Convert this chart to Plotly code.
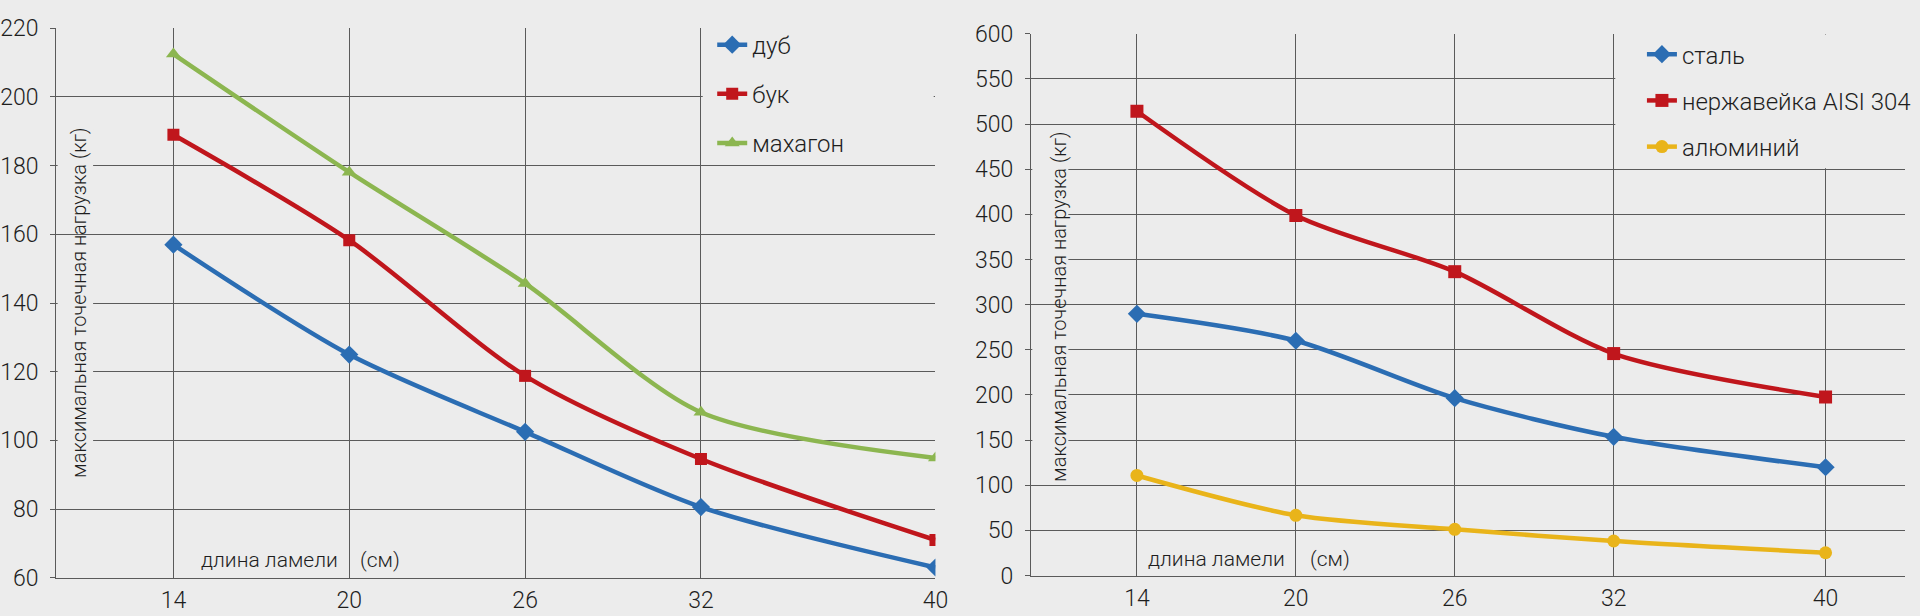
import plotly.graph_objects as go

# ---- data ----
lengths = [14, 20, 26, 32, 40]

wood_names = ["дуб", "бук", "махагон"]
oak = [157, 125, 102.5, 80.6, 63]
beech = [189, 158.3, 118.8, 94.6, 71]
mahogany = [212.5, 178.1, 145.7, 108.2, 94.9]

metal_names = ["сталь", "нержавейка AISI 304", "алюминий"]
steel = [289.8, 260, 196.4, 153.6, 119.9]
stainless = [514.2, 398.8, 336.5, 245.8, 197.8]
aluminium = [110.8, 66.7, 51.2, 38.2, 25.2]

left_yticks = [60, 80, 100, 120, 140, 160, 180, 200, 220]
right_yticks = [0, 50, 100, 150, 200, 250, 300, 350, 400, 450, 500, 550, 600]

y_title = "максимальная точечная нагрузка (кг)"
x_title = "длина ламели"
x_unit = "(см)"

# ---- style ----
W, H = 1920, 616
BG = "#ececec"
GRID = "#5a5a5a"
TXT = "#1e1e1e"
FONT = "Roboto"
BLUE = "#2b6db3"
RED = "#c0161c"
GREEN = "#8cb650"
YELLOW = "#e9b41a"

def px_x(p):
    return p / W

def px_y(p):
    return 1 - p / H

fig = go.Figure()

wood_series = [oak, beech, mahogany]
wood_colors = [BLUE, RED, GREEN]
wood_symbols = ["diamond", "square", "triangle-up"]
wood_sizes = [14, 12, 13]
for i, (name, vals) in enumerate(zip(wood_names, wood_series)):
    fig.add_trace(go.Scatter(
        x=lengths, y=vals, name=name, mode="lines+markers",
        line=dict(color=wood_colors[i], width=4.5, shape="spline", smoothing=0.8),
        marker=dict(symbol=wood_symbols[i], size=wood_sizes[i], color=wood_colors[i]),
        xaxis="x", yaxis="y", legend="legend", legendgroup="w%d" % i,
    ))

metal_series = [steel, stainless, aluminium]
metal_colors = [BLUE, RED, YELLOW]
metal_symbols = ["diamond", "square", "circle"]
metal_sizes = [14, 13, 13]
for i, (name, vals) in enumerate(zip(metal_names, metal_series)):
    fig.add_trace(go.Scatter(
        x=lengths, y=vals, name=name, mode="lines+markers",
        line=dict(color=metal_colors[i], width=4.5, shape="spline", smoothing=0.8),
        marker=dict(symbol=metal_symbols[i], size=metal_sizes[i], color=metal_colors[i]),
        xaxis="x2", yaxis="y2", legend="legend2", legendgroup="m%d" % i,
    ))

TICKF = dict(family=FONT, size=23, color=TXT, weight=300)
axis_common = dict(
    showgrid=True, gridcolor=GRID, gridwidth=1,
    showline=True, linecolor=GRID, linewidth=1,
    zeroline=False, tickfont=TICKF,
)

LEGF = dict(family=FONT, size=24, color=TXT, weight=300)
fig.update_layout(
    width=W, height=H,
    margin=dict(l=0, r=0, t=0, b=0),
    paper_bgcolor=BG, plot_bgcolor=BG,
    font=dict(family=FONT, color=TXT, size=22, weight=300),
    xaxis=dict(domain=[px_x(48.7), px_x(937.7)], range=[10, 40],
               tickvals=lengths, ticks="", anchor="y", ticklabelstandoff=2, **axis_common),
    yaxis=dict(domain=[px_y(590.7), px_y(16)], range=[60, 220],
               tickvals=left_yticks, ticks="outside", ticklen=5, tickcolor=GRID,
               anchor="x", ticklabelstandoff=7, **axis_common),
    xaxis2=dict(domain=[px_x(1034.3), px_x(1918)], range=[10, 43],
                tickvals=lengths, ticks="", anchor="y2", ticklabelstandoff=2, **axis_common),
    yaxis2=dict(domain=[px_y(588.3), px_y(21.7)], range=[0, 600],
                tickvals=right_yticks, ticks="outside", ticklen=5, tickcolor=GRID,
                anchor="x2", ticklabelstandoff=7, **axis_common),
    legend=dict(x=px_x(712), y=px_y(10), xanchor="left", yanchor="top",
                bgcolor="rgba(0,0,0,0)", tracegroupgap=15, font=LEGF),
    legend2=dict(x=px_x(1652), y=px_y(20), xanchor="left", yanchor="top",
                 bgcolor="rgba(0,0,0,0)", tracegroupgap=12, font=LEGF),
    showlegend=True,
)

# masks that hide gridlines behind legends and axis titles
masks = [
    ("x", "y", 32.06, 39.94, 180.4, 219.6),
    ("x2", "y2", 32.06, 43, 451, 599.2),
    ("x", "y", 10.05, 11.26, 89.7, 155),
    ("x", "y", 10.05, 11.26, 165, 190.5),
    ("x2", "y2", 10.05, 11.41, 114.7, 290),
    ("x2", "y2", 10.05, 11.41, 310, 481),
]
for xr, yr, x0, x1, y0, y1 in masks:
    fig.add_shape(type="rect", xref=xr, yref=yr, x0=x0, x1=x1, y0=y0, y1=y1,
                  fillcolor=BG, line=dict(width=0), layer="between")

ann_font = dict(family=FONT, size=20, color=TXT, weight=300)
for xc, yc in [(72, 303), (1062, 307)]:
    fig.add_annotation(xref="paper", yref="paper", x=px_x(xc), y=px_y(yc),
                       text=y_title, textangle=-90, showarrow=False,
                       xanchor="center", yanchor="middle", font=ann_font)

xl_font = dict(family=FONT, size=21, color=TXT, weight=300)
for xc, xu, yc in [(264, 354, 572), (1222, 1314, 571)]:
    fig.add_annotation(xref="paper", yref="paper", x=px_x(xc), y=px_y(yc),
                       text=x_title, showarrow=False, xanchor="center",
                       yanchor="middle", font=xl_font)
    fig.add_annotation(xref="paper", yref="paper", x=px_x(xu), y=px_y(yc),
                       text=x_unit, showarrow=False, xanchor="left",
                       yanchor="middle", font=xl_font)

fig.write_html("out.html",
               config={"displayModeBar": False},
               post_script="document.body.style.margin='0';document.body.style.overflow='hidden';")
